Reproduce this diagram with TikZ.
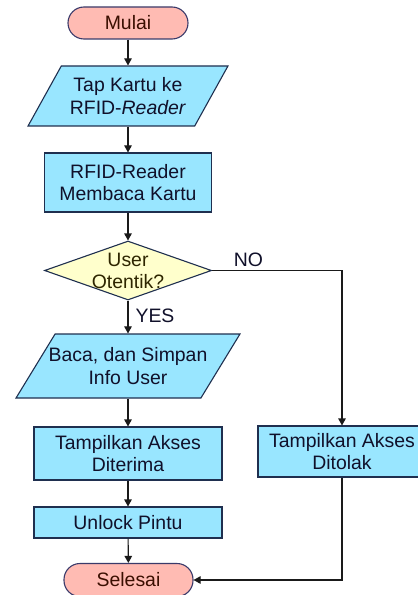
\documentclass[tikz,border=0pt]{standalone}
\usepackage{fontspec}
\setmainfont{Liberation Sans}
\usetikzlibrary{shapes.geometric,arrows.meta}
\definecolor{termfill}{HTML}{FFBBB3}
\definecolor{termborder}{HTML}{3A3A6A}
\definecolor{termtext}{HTML}{3A0E00}
\definecolor{boxfill}{HTML}{99E6FF}
\definecolor{boxborder}{HTML}{1F2F4F}
\definecolor{boxtext}{HTML}{10102A}
\definecolor{decfill}{HTML}{FFFFCC}
\definecolor{dectext}{HTML}{2E2600}
\definecolor{linecol}{HTML}{1A1A1A}
\begin{document}
\begin{tikzpicture}[x=1bp,y=-1bp,
  every node/.style={font=\fontsize{19.5}{22.7}\selectfont, align=center, inner sep=0pt},
  term/.style={draw=termborder, fill=termfill, rounded corners=16bp, line width=1.1bp, text=termtext},
  proc/.style={rectangle, draw=boxborder, fill=boxfill, line width=1.1bp, text=boxtext},
  io/.style={trapezium, trapezium stretches=true, draw=boxborder, fill=boxfill, line width=1.1bp, inner sep=2bp},
  dec/.style={diamond, draw=boxborder, fill=decfill, line width=1.1bp, inner sep=2bp},
  iotxt/.style={text=boxtext},
  dectxt/.style={text=dectext},
  lbl/.style={text=boxtext},
  arr/.style={-{Triangle[length=7bp,width=7.5bp]}, line width=1.1bp, draw=linecol}]
\useasboundingbox (0,0) rectangle (417,595);

\node[term, minimum width=120bp, minimum height=32bp] (mulai) at (128,23) {Mulai};
\node[io, trapezium left angle=76, trapezium right angle=104, minimum width=200bp, minimum height=60bp] (tap) at (128,96) {};
\node[iotxt] (taptxt) at (128,96) {Tap Kartu ke\\RFID-\textit{Reader}};
\node[proc, minimum width=167bp, minimum height=59bp] (rfid) at (128,182.5) {RFID-Reader\\Membaca Kartu};
\node[dec, minimum width=167bp, minimum height=59bp] (otentik) at (128,270.5) {};
\node[dectxt] (otentiktxt) at (128,271) {User\\Otentik?};
\node[io, trapezium left angle=75, trapezium right angle=105, minimum width=224bp, minimum height=64bp] (baca) at (128,366) {};
\node[iotxt] (bacatxt) at (128,366) {Baca, dan Simpan\\Info User};
\node[proc, minimum width=188bp, minimum height=53bp] (diterima) at (128,453.5) {Tampilkan Akses\\Diterima};
\node[proc, minimum width=188bp, minimum height=31bp] (unlock) at (128,522.5) {Unlock Pintu};
\node[term, minimum width=129bp, minimum height=33bp] (selesai) at (128.5,580) {Selesai};
\node[proc, minimum width=168bp, minimum height=51bp] (ditolak) at (342,451.5) {Tampilkan Akses\\Ditolak};

\draw[arr] (mulai) -- (tap);
\draw[arr] (tap) -- (rfid);
\draw[arr] (rfid) -- (otentik);
\draw[arr] (otentik.south) -- node[lbl, right=7bp, pos=0.45] (yes) {YES} (baca.north);
\draw[arr] (otentik.east) -| node[lbl, above=3bp, pos=0.14] (no) {NO} (ditolak.north);
\draw[arr] (baca) -- (diterima);
\draw[arr] (diterima) -- (unlock);
\draw[arr] (unlock) -- (selesai);
\draw[arr] (ditolak.south) |- (selesai.east);
\end{tikzpicture}
\end{document}
